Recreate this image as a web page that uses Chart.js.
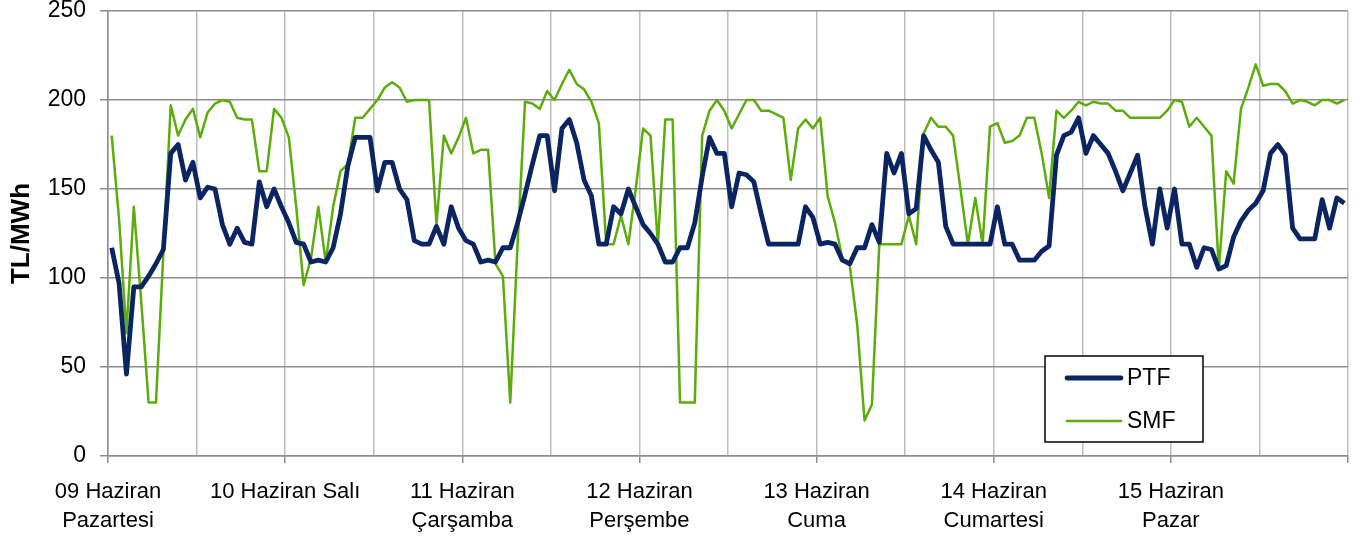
<!DOCTYPE html>
<html>
<head>
<meta charset="utf-8">
<script src="https://cdn.jsdelivr.net/npm/chart.js@4"></script>
<style>
  body { margin: 0; background: #fff; }
  canvas { display: block; }
</style>
</head>
<body>
<canvas id="price-chart" width="1355" height="536"></canvas>
<script>
// hourly prices, 09-15 June (168 hours)
const dayLabels = [
  ["09 Haziran", "Pazartesi"],
  "10 Haziran Salı",
  ["11 Haziran", "Çarşamba"],
  ["12 Haziran", "Perşembe"],
  ["13 Haziran", "Cuma"],
  ["14 Haziran", "Cumartesi"],
  ["15 Haziran", "Pazar"],
];

const ptf = [
  117, 97, 46, 95, 95, 101, 108, 116, 170, 175, 155, 165, 145, 151, 150, 130, 119, 128, 120, 119, 154,
  140, 150, 140, 131, 120, 119, 109, 110, 109, 117, 136, 163, 179, 179, 179, 149, 165, 165, 150, 144, 121,
  119, 119, 129, 119, 140, 128, 121, 119, 109, 110, 109, 117, 117, 131, 147, 164, 180, 180, 149, 184, 189,
  176, 155, 146, 119, 119, 140, 136, 150, 140, 130, 125, 119, 109, 109, 117, 117, 131, 157, 179, 170, 170,
  140, 159, 158, 154, 136, 119, 119, 119, 119, 119, 140, 134, 119, 120, 119, 110, 108, 117, 117, 130, 120,
  170, 159, 170, 136, 139, 180, 172, 165, 129, 119, 119, 119, 119, 119, 119, 140, 119, 119, 110, 110, 110,
  115, 118, 169, 180, 182, 190, 170, 180, 175, 170, 160, 149, 159, 169, 140, 119, 150, 128, 150, 119, 119,
  106, 117, 116, 105, 107, 123, 132, 138, 142, 149, 170, 175, 169, 128, 122, 122, 122, 144, 128, 145, 142,
];

const smf = [
  180, 133, 69, 140, 87, 30, 30, 114, 197, 180, 189, 195, 179, 193, 198, 200, 199, 190, 189, 189, 160,
  160, 195, 190, 179, 140, 96, 111, 140, 109, 140, 160, 164, 190, 190, 195, 200, 207, 210, 207, 199, 200,
  200, 200, 130, 180, 170, 179, 190, 170, 172, 172, 108, 101, 30, 120, 199, 198, 195, 205, 200, 209, 217,
  209, 206, 199, 187, 119, 119, 135, 119, 150, 184, 180, 119, 189, 189, 30, 30, 30, 180, 194, 200, 194,
  184, 192, 200, 200, 194, 194, 192, 190, 155, 184, 189, 184, 190, 146, 131, 111, 107, 74, 20, 29, 119,
  119, 119, 119, 135, 119, 181, 190, 185, 185, 180, 150, 119, 145, 119, 185, 187, 176, 177, 180, 190, 190,
  170, 145, 194, 190, 194, 199, 197, 199, 198, 198, 194, 194, 190, 190, 190, 190, 190, 194, 200, 199, 185,
  190, 185, 180, 105, 160, 153, 195, 207, 220, 208, 209, 209, 205, 198, 200, 199, 197, 200, 200, 198, 200,
];

const yTicks = [0, 50, 100, 150, 200, 250];

// each hour sits in the middle of its slot
const toPoints = (arr) => arr.map((v, i) => ({ x: i + 0.5, y: v }));

// legend box drawn inside the plot, lower right
const boxLegend = {
  id: "boxLegend",
  afterDraw(chart) {
    const ctx = chart.ctx;
    const x = 1045, y = 356, w = 158, h = 86;
    ctx.save();
    ctx.fillStyle = "#fff";
    ctx.fillRect(x, y, w, h);
    ctx.strokeStyle = "#000";
    ctx.lineWidth = 1.5;
    ctx.strokeRect(x, y, w, h);
    ctx.font = "23px 'Liberation Sans', Arial, sans-serif";
    ctx.textBaseline = "middle";
    chart.data.datasets.forEach((ds, k) => {
      const ly = y + 22 + k * 43;
      ctx.strokeStyle = ds.borderColor;
      ctx.lineWidth = ds.borderWidth;
      ctx.lineCap = "round";
      ctx.beginPath();
      ctx.moveTo(x + 22, ly);
      ctx.lineTo(x + 76, ly);
      ctx.stroke();
      ctx.fillStyle = "#000";
      ctx.fillText(ds.label, x + 82, ly + 1);
    });
    ctx.restore();
  },
};

new Chart(document.getElementById("price-chart"), {
  type: "line",
  data: {
    datasets: [
      {
        label: "PTF",
        data: toPoints(ptf),
        borderColor: "#0a2561",
        borderWidth: 4.8,
        pointRadius: 0,
        tension: 0,
        borderJoinStyle: "round",
      },
      {
        label: "SMF",
        data: toPoints(smf),
        borderColor: "#5cad0c",
        borderWidth: 2.5,
        pointRadius: 0,
        tension: 0,
        borderJoinStyle: "round",
      },
    ],
  },
  options: {
    responsive: false,
    animation: false,
    devicePixelRatio: 1,
    layout: { padding: { top: 11, right: 7, left: 0, bottom: 0 } },
    plugins: {
      legend: { display: false },
      tooltip: { enabled: false },
    },
    scales: {
      x: {
        type: "linear",
        min: 0,
        max: 168,
        afterFit: (s) => { s.height = 80; s.paddingLeft = 0; s.paddingRight = 0; },
        border: { color: "#8c8c8c", width: 1.5 },
        grid: {
          color: "#bdbdbd",
          lineWidth: 1.5,
          tickLength: 7,
          tickColor: (c) => (c.tick && c.tick.value % 24 === 0 ? "#8c8c8c" : "rgba(0,0,0,0)"),
        },
        ticks: {
          stepSize: 12,
          autoSkip: false,
          maxRotation: 0,
          padding: 14,
          color: "#000",
          font: { family: "'Liberation Sans', Arial, sans-serif", size: 22, lineHeight: 1.32 },
          callback: (v) => (v % 24 === 0 && v < 168 ? dayLabels[v / 24] : ""),
        },
      },
      y: {
        min: 0,
        max: 250,
        afterFit: (s) => { s.width = 108; s.paddingTop = 0; s.paddingBottom = 0; },
        afterBuildTicks: (s) => { s.ticks = yTicks.map((v) => ({ value: v })); },
        border: { color: "#8c8c8c", width: 1.5 },
        grid: { color: "#8c8c8c", lineWidth: 1.5, tickLength: 8, tickColor: "#8c8c8c" },
        ticks: {
          padding: 14,
          color: "#000",
          font: { family: "'Liberation Sans', Arial, sans-serif", size: 23 },
        },
        title: {
          display: true,
          text: "TL/MWh",
          color: "#000",
          padding: { top: 6, bottom: 2 },
          font: { family: "'Liberation Sans', Arial, sans-serif", size: 26, weight: "bold" },
        },
      },
    },
  },
  plugins: [boxLegend],
});
</script>
</body>
</html>
